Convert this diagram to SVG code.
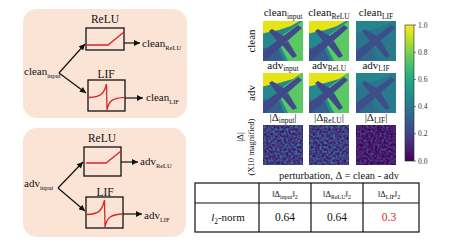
<svg xmlns="http://www.w3.org/2000/svg" width="450" height="245" viewBox="0 0 450 245" font-family="'Liberation Serif','DejaVu Serif',serif">
<style>
text{font-family:"Liberation Serif","DejaVu Serif",serif;fill:#111}
.panel{fill:#fbe4d6}
.box{fill:none;stroke:#111;stroke-width:1.3}
.act{fill:none;stroke:#d62728;stroke-width:1.3}
.conn line{stroke:#111;stroke-width:1.2;marker-end:url(#ah)}
.t11{font-size:11px}
.sub{font-size:6.5px}
.tick{font-size:7.5px;fill:#333}
.tb{fill:none;stroke:#111;stroke-width:1.2}
.clean .b0{fill:#27878d}.clean .gr{fill:#5ac864}.clean .sk{fill:#e4e419}.clean .dk{fill:#35608d}.clean .pl{fill:#3f4a89}
.lif .b0{fill:#2b758e}.lif .gr{fill:#2a7a8e}.lif .sk{fill:#26848e}.lif .dk{fill:#306a8e}.lif .pl{fill:#3c508b}
.art{filter:url(#soft)}
</style>
<defs>
<marker id="ah" viewBox="0 0 10 10" refX="10" refY="5" markerWidth="7" markerHeight="6" markerUnits="userSpaceOnUse" orient="auto"><path d="M0,0 L10,5 L0,10 z" fill="#111"/></marker>
<linearGradient id="vir" x1="0" y1="1" x2="0" y2="0">
<stop offset="0" stop-color="#440154"/><stop offset="0.1" stop-color="#482475"/><stop offset="0.2" stop-color="#414487"/><stop offset="0.3" stop-color="#355f8d"/><stop offset="0.4" stop-color="#2a788e"/><stop offset="0.5" stop-color="#21918c"/><stop offset="0.6" stop-color="#22a884"/><stop offset="0.7" stop-color="#44bf70"/><stop offset="0.8" stop-color="#7ad151"/><stop offset="0.9" stop-color="#bddf26"/><stop offset="1" stop-color="#fde725"/>
</linearGradient>
<clipPath id="sq"><rect width="40" height="40"/></clipPath>
<filter id="soft" x="-0.1" y="-0.1" width="1.2" height="1.2"><feGaussianBlur stdDeviation="0.7"/></filter>
<filter id="nzA" x="0" y="0" width="1" height="1" color-interpolation-filters="sRGB">
<feTurbulence type="fractalNoise" baseFrequency="0.45" numOctaves="1" seed="7"/>
<feColorMatrix type="matrix" values="1 0 0 0 0 1 0 0 0 0 1 0 0 0 0 0 0 0 0 1"/>
<feComponentTransfer>
<feFuncR type="table" tableValues="0.267 0.267 0.267 0.277 0.282 0.26 0.217 0.174 0.136 0.129 0.129"/>
<feFuncG type="table" tableValues="0.005 0.005 0.005 0.08 0.141 0.24 0.35 0.451 0.549 0.569 0.569"/>
<feFuncB type="table" tableValues="0.329 0.329 0.329 0.40 0.458 0.515 0.55 0.557 0.551 0.549 0.549"/>
</feComponentTransfer>
</filter>
<filter id="nzL" x="0" y="0" width="1" height="1" color-interpolation-filters="sRGB">
<feTurbulence type="fractalNoise" baseFrequency="0.45" numOctaves="1" seed="3"/>
<feColorMatrix type="matrix" values="1 0 0 0 0 1 0 0 0 0 1 0 0 0 0 0 0 0 0 1"/>
<feComponentTransfer>
<feFuncR type="table" tableValues="0.267 0.267 0.267 0.267 0.27 0.28 0.28 0.255 0.217 0.208 0.208"/>
<feFuncG type="table" tableValues="0.005 0.005 0.005 0.005 0.05 0.12 0.18 0.267 0.35 0.373 0.373"/>
<feFuncB type="table" tableValues="0.329 0.329 0.329 0.329 0.37 0.44 0.48 0.529 0.55 0.553 0.553"/>
</feComponentTransfer>
</filter>
</defs>

<!-- Left panels -->
<g id="panel-clean">
<rect class="panel" x="23" y="9" width="164" height="109" rx="14"/>
<text class="t11" x="24" y="75">clean<tspan class="sub" dy="2.5">input</tspan></text>
<text x="105" y="23" text-anchor="middle" font-size="11.5">ReLU</text>
<rect class="box" x="86" y="28" width="38" height="22"/>
<path class="act" d="M87,45 L108,45 L124,32"/>
<text x="106" y="78" text-anchor="middle" font-size="11.5">LIF</text>
<rect class="box" x="88" y="80" width="37" height="31"/>
<path class="act" d="M89,97.5 C100,97 104,94.5 106.5,84 L107,110 C109,100 113,98 125,97.3"/>
<text class="t11" x="142" y="47">clean<tspan class="sub" dy="2.5">ReLU</tspan></text>
<text class="t11" x="146" y="101">clean<tspan class="sub" dy="2.5">LIF</tspan></text>
</g>

<g id="panel-adv">
<rect class="panel" x="23" y="128" width="163" height="109" rx="14"/>
<text class="t11" x="24" y="187">adv<tspan class="sub" dy="2.5">input</tspan></text>
<text x="102" y="142" text-anchor="middle" font-size="11.5">ReLU</text>
<rect class="box" x="84" y="147" width="37" height="29"/>
<path class="act" d="M86,163 L106,163 L121,151"/>
<text x="105" y="196" text-anchor="middle" font-size="11.5">LIF</text>
<rect class="box" x="86" y="197" width="37" height="31"/>
<path class="act" d="M87,214.5 C98,214 102,211.5 104.5,200 L105,227 C107,217 111,214.5 123,214"/>
<text class="t11" x="140" y="165">adv<tspan class="sub" dy="2.5">ReLU</tspan></text>
<text class="t11" x="144" y="219">adv<tspan class="sub" dy="2.5">LIF</tspan></text>
</g>

<g id="connectors" class="conn">
<line x1="59" y1="73" x2="85" y2="44"/>
<line x1="59" y1="73" x2="86" y2="93"/>
<line x1="124" y1="43" x2="140" y2="43"/>
<line x1="125" y1="98" x2="143" y2="98"/>
<line x1="58" y1="188" x2="83" y2="162"/>
<line x1="58" y1="188" x2="85" y2="211"/>
<line x1="121" y1="162" x2="138" y2="162"/>
<line x1="123" y1="214" x2="142" y2="214"/>
</g>

<!-- Image grid -->
<g id="grid-titles">
<text class="t11" x="283" y="16" text-anchor="middle">clean<tspan font-size="7.5" dy="2.5">input</tspan></text>
<text class="t11" x="329" y="16" text-anchor="middle">clean<tspan font-size="7.5" dy="2.5">ReLU</tspan></text>
<text class="t11" x="376" y="16" text-anchor="middle">clean<tspan font-size="7.5" dy="2.5">LIF</tspan></text>
<text class="t11" x="283" y="68.5" text-anchor="middle">adv<tspan font-size="7.5" dy="2.5">input</tspan></text>
<text class="t11" x="329" y="68.5" text-anchor="middle">adv<tspan font-size="7.5" dy="2.5">ReLU</tspan></text>
<text class="t11" x="376" y="68.5" text-anchor="middle">adv<tspan font-size="7.5" dy="2.5">LIF</tspan></text>
<text class="t11" x="283" y="120.5" text-anchor="middle">|Δ<tspan font-size="7.5" dy="2.5">input</tspan><tspan dy="-2.5">|</tspan></text>
<text class="t11" x="329" y="120.5" text-anchor="middle">|Δ<tspan font-size="7.5" dy="2.5">ReLU</tspan><tspan dy="-2.5">|</tspan></text>
<text class="t11" x="376" y="120.5" text-anchor="middle">|Δ<tspan font-size="7.5" dy="2.5">LIF</tspan><tspan dy="-2.5">|</tspan></text>
<text class="t11" transform="translate(255,41) rotate(-90)" text-anchor="middle">clean</text>
<text class="t11" transform="translate(255,93) rotate(-90)" text-anchor="middle">adv</text>
<text font-size="9" transform="translate(243,137) rotate(-90)" text-anchor="middle">|Δ|</text>
<text font-size="8.5" transform="translate(254,147) rotate(-90)" text-anchor="middle">(X10 magnified)</text>
</g>

<g id="img-clean-input" class="clean" transform="translate(263,21)" clip-path="url(#sq)">
<g class="art">
<rect class="b0" x="-2" y="-2" width="44" height="44"/>
<polygon class="gr" points="42,-2 42,42 26,42 18,26 20,14 34,4"/>
<polygon class="sk" points="-2,-2 40,-2 28,5 16,9 6,11 -2,13"/>
<polygon class="dk" points="-2,28 14,24 22,42 -2,42"/>
<polygon class="pl" points="-2,32 35,4 39,7 3,39 -2,42"/>
<polygon class="pl" points="14,20 6,10 9,8 22,16"/>
<polygon class="pl" points="19,24 30,37 34,35 25,20"/>
</g>
</g>
<g id="img-clean-relu" class="clean" transform="translate(309,21)" clip-path="url(#sq)">
<g class="art">
<rect class="b0" x="-2" y="-2" width="44" height="44"/>
<polygon class="gr" points="42,-2 42,42 26,42 18,26 20,14 34,4"/>
<polygon class="sk" points="-2,-2 40,-2 28,5 16,9 6,11 -2,13"/>
<polygon class="dk" points="-2,28 14,24 22,42 -2,42"/>
<polygon class="pl" points="-2,32 35,4 39,7 3,39 -2,42"/>
<polygon class="pl" points="14,20 6,10 9,8 22,16"/>
<polygon class="pl" points="19,24 30,37 34,35 25,20"/>
</g>
</g>
<g id="img-clean-lif" class="lif" transform="translate(356,21)" clip-path="url(#sq)">
<g class="art">
<rect class="b0" x="-2" y="-2" width="44" height="44"/>
<polygon class="gr" points="42,-2 42,42 26,42 18,26 20,14 34,4"/>
<polygon class="sk" points="-2,-2 40,-2 28,5 16,9 6,11 -2,13"/>
<polygon class="dk" points="-2,28 14,24 22,42 -2,42"/>
<polygon class="pl" points="-2,32 35,4 39,7 3,39 -2,42"/>
<polygon class="pl" points="14,20 6,10 9,8 22,16"/>
<polygon class="pl" points="19,24 30,37 34,35 25,20"/>
</g>
</g>
<g id="img-adv-input" class="clean" transform="translate(263,73)" clip-path="url(#sq)">
<g class="art">
<rect class="b0" x="-2" y="-2" width="44" height="44"/>
<polygon class="gr" points="42,-2 42,42 26,42 18,26 20,14 34,4"/>
<polygon class="sk" points="-2,-2 42,-2 30,6 16,10 6,12 -2,14"/>
<polygon class="dk" points="-2,28 14,24 22,42 -2,42"/>
<polygon class="pl" points="-2,32 35,4 39,7 3,39 -2,42"/>
<polygon class="pl" points="14,20 6,10 9,8 22,16"/>
<polygon class="pl" points="19,24 30,37 34,35 25,20"/>
</g>
</g>
<g id="img-adv-relu" class="clean" transform="translate(309,73)" clip-path="url(#sq)">
<g class="art">
<rect class="b0" x="-2" y="-2" width="44" height="44"/>
<polygon class="gr" points="42,-2 42,42 26,42 18,26 20,14 34,4"/>
<polygon class="sk" points="-2,-2 42,-2 30,6 16,10 6,12 -2,14"/>
<polygon class="dk" points="-2,28 14,24 22,42 -2,42"/>
<polygon class="pl" points="-2,32 35,4 39,7 3,39 -2,42"/>
<polygon class="pl" points="14,20 6,10 9,8 22,16"/>
<polygon class="pl" points="19,24 30,37 34,35 25,20"/>
</g>
</g>
<g id="img-adv-lif" class="lif" transform="translate(356,73)" clip-path="url(#sq)">
<g class="art">
<rect class="b0" x="-2" y="-2" width="44" height="44"/>
<polygon class="gr" points="42,-2 42,42 26,42 18,26 20,14 34,4"/>
<polygon class="sk" points="-2,-2 40,-2 28,5 16,9 6,11 -2,13"/>
<polygon class="dk" points="-2,28 14,24 22,42 -2,42"/>
<polygon class="pl" points="-2,32 35,4 39,7 3,39 -2,42"/>
<polygon class="pl" points="14,20 6,10 9,8 22,16"/>
<polygon class="pl" points="19,24 30,37 34,35 25,20"/>
</g>
</g>
<g id="img-delta">
<rect x="263" y="125" width="40" height="40" filter="url(#nzA)"/>
<rect x="309" y="125" width="40" height="40" filter="url(#nzA)"/>
<rect x="356" y="125" width="40" height="40" filter="url(#nzL)"/>
</g>

<g id="colorbar">
<rect x="405" y="25" width="9" height="136" fill="url(#vir)" stroke="#222" stroke-width="0.6"/>
<path d="M414,25h2M414,52.2h2M414,79.4h2M414,106.6h2M414,133.8h2M414,161h2" stroke="#222" stroke-width="0.6"/>
<text class="tick" x="418" y="27.5">1.0</text>
<text class="tick" x="418" y="54.7">0.8</text>
<text class="tick" x="418" y="81.9">0.6</text>
<text class="tick" x="418" y="109.1">0.4</text>
<text class="tick" x="418" y="136.3">0.2</text>
<text class="tick" x="418" y="163.5">0.0</text>
</g>

<text x="339" y="179" text-anchor="middle" font-size="10.5">perturbation, Δ = clean - adv</text>

<g id="table">
<rect class="tb" x="195" y="183" width="224" height="49"/>
<path class="tb" d="M195,203H419M259,183V232M311,183V232M363,183V232"/>
<text x="285" y="197" text-anchor="middle" font-size="8.5">‖Δ<tspan font-size="6" dy="2">input</tspan><tspan dy="-2">‖</tspan><tspan font-size="6" dy="2">2</tspan></text>
<text x="337" y="197" text-anchor="middle" font-size="8.5">‖Δ<tspan font-size="6" dy="2">ReLU</tspan><tspan dy="-2">‖</tspan><tspan font-size="6" dy="2">2</tspan></text>
<text x="389" y="197" text-anchor="middle" font-size="8.5">‖Δ<tspan font-size="6" dy="2">LIF</tspan><tspan dy="-2">‖</tspan><tspan font-size="6" dy="2">2</tspan></text>
<text x="228" y="221" text-anchor="middle" font-size="11"><tspan font-style="italic">l</tspan><tspan font-size="7.5" dy="2.5">2</tspan><tspan dy="-2.5">-norm</tspan></text>
<text x="285" y="221" text-anchor="middle" font-size="11.5">0.64</text>
<text x="337" y="221" text-anchor="middle" font-size="11.5">0.64</text>
<text x="389" y="221" text-anchor="middle" font-size="11.5" style="fill:#e8191c">0.3</text>
</g>
</svg>
